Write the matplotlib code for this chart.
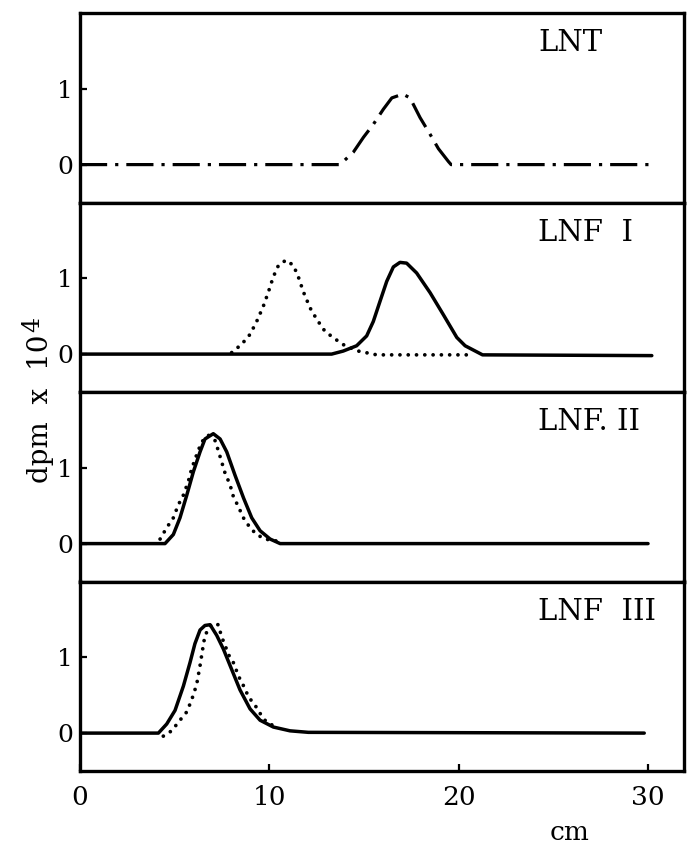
import matplotlib
matplotlib.use("Agg")
import matplotlib.pyplot as plt

plt.rcParams['font.family'] = ['DejaVu Serif']

# ---- data (cm, dpm x 10^4) ----
lnt_x = [0, 13.73, 14.44, 14.97, 15.49, 16.02, 16.47, 17.05, 17.43, 17.96, 18.49, 18.93, 19.46, 19.6, 30.3]
lnt_y = [0, 0, 0.165, 0.36, 0.53, 0.73, 0.88, 0.93, 0.88, 0.62, 0.40, 0.21, 0.04, 0, 0]

lnf1_solid_x = [0, 13.29, 13.9, 14.61, 15.14, 15.49, 15.85, 16.2, 16.55, 16.9, 17.25, 17.78, 18.49,
                19.19, 19.9, 20.34, 21.26, 30.2]
lnf1_solid_y = [0, 0, 0.04, 0.11, 0.24, 0.43, 0.70, 0.96, 1.15, 1.21, 1.20, 1.07, 0.81,
                0.52, 0.22, 0.11, -0.01, -0.02]
lnf1_dot_x = [8.01, 8.54, 8.98, 9.33, 9.68, 9.95, 10.21, 10.48, 10.88, 11.27, 11.53, 11.8, 12.15,
              12.5, 12.94, 13.47, 14.0, 14.7, 15.67, 20.7]
lnf1_dot_y = [0.02, 0.13, 0.26, 0.43, 0.63, 0.82, 1.02, 1.17, 1.24, 1.17, 1.02, 0.82, 0.61,
              0.46, 0.30, 0.20, 0.11, 0.04, -0.01, -0.01]

lnf2_solid_x = [0, 4.49, 4.93, 5.28, 5.64, 5.99, 6.34, 6.6, 7.04, 7.4, 7.75, 8.19, 8.64, 9.07,
                9.51, 10.04, 10.57, 30.0]
lnf2_solid_y = [0, 0, 0.12, 0.34, 0.64, 0.95, 1.21, 1.38, 1.45, 1.38, 1.21, 0.90, 0.60, 0.34,
                0.17, 0.06, 0, 0]
lnf2_dot_x = [4.23, 4.58, 4.93, 5.19, 5.46, 5.72, 5.9, 6.16, 6.42, 6.78, 7.13, 7.3, 7.48, 7.66,
              7.92, 8.1, 8.36, 8.63, 8.98, 9.33, 9.77, 10.48]
lnf2_dot_y = [0.06, 0.21, 0.34, 0.51, 0.64, 0.82, 0.99, 1.17, 1.34, 1.43, 1.36, 1.23, 1.08, 0.93,
              0.78, 0.62, 0.49, 0.34, 0.21, 0.12, 0.06, 0.03]

lnf3_solid_x = [0, 4.14, 4.58, 5.02, 5.46, 5.81, 6.07, 6.34, 6.6, 6.87, 7.22, 7.57, 8.01, 8.45,
                8.98, 9.51, 10.21, 11.09, 12.06, 29.8]
lnf3_solid_y = [0, 0, 0.12, 0.30, 0.62, 0.93, 1.18, 1.36, 1.42, 1.43, 1.29, 1.11, 0.84, 0.57,
                0.32, 0.17, 0.08, 0.03, 0.01, 0]
lnf3_dot_x = [4.4, 4.84, 5.28, 5.64, 5.9, 6.16, 6.34, 6.48, 6.6, 6.95, 7.3, 7.48, 7.66, 7.83,
              8.1, 8.27, 8.45, 8.71, 8.89, 9.24, 9.51, 9.86, 10.21]
lnf3_dot_y = [-0.04, 0.03, 0.17, 0.28, 0.44, 0.64, 0.89, 1.11, 1.29, 1.44, 1.43, 1.27, 1.16, 1.04,
              0.93, 0.82, 0.71, 0.59, 0.48, 0.37, 0.26, 0.14, 0.10]

panel_labels = ["LNT", "LNF  I", "LNF. II", "LNF  III"]
x_ticks = [0, 10, 20, 30]
y_ticks = [0, 1]

# ---- figure ----
W, H = 687, 844
fig = plt.figure(figsize=(W / 100, H / 100), dpi=100)
left, right = 80 / W, 684 / W
top_px, bot_px = 13, 771
ph = (bot_px - top_px) / 4

SOLID = dict(color='black', lw=2.5, solid_capstyle='round', solid_joinstyle='round')
DOT = dict(color='black', lw=2.7, linestyle=(0, (0.01, 2.2)), dash_capstyle='round')
DASHDOT = dict(color='black', lw=2.3, linestyle=(0, (8.5, 2.5, 1, 2.5)))

curves = [
    [(lnt_x, lnt_y, DASHDOT)],
    [(lnf1_dot_x, lnf1_dot_y, DOT), (lnf1_solid_x, lnf1_solid_y, SOLID)],
    [(lnf2_dot_x, lnf2_dot_y, DOT), (lnf2_solid_x, lnf2_solid_y, SOLID)],
    [(lnf3_dot_x, lnf3_dot_y, DOT), (lnf3_solid_x, lnf3_solid_y, SOLID)],
]

axes = []
for i in range(4):
    t = top_px + i * ph
    ax = fig.add_axes([left, 1 - (t + ph) / H, right - left, ph / H])
    for (xs, ys, st) in curves[i]:
        ax.plot(xs, ys, **st)
    ax.set_xlim(0, 31.9)
    ax.set_ylim(-0.5, 2.0)
    ax.set_yticks(y_ticks)
    ax.set_yticklabels([str(v) for v in y_ticks], fontsize=18)
    ax.tick_params(axis='y', direction='in', length=5, width=1.6, pad=5)
    ax.set_xticks(x_ticks)
    if i < 3:
        ax.tick_params(axis='x', bottom=False, labelbottom=False)
    else:
        ax.set_xticklabels([str(v) for v in x_ticks], fontsize=19)
        ax.tick_params(axis='x', direction='in', length=5, width=1.6, pad=10)
    for s in ax.spines.values():
        s.set_linewidth(2.4)
    ax.text(24.2, 1.6, panel_labels[i], fontsize=21, ha='left', va='center')
    axes.append(ax)

# y label: "dpm x 10" with a large raised "4"
base_x = 48 / W
t1 = fig.text(base_x, 1 - 483 / H, 'dpm  x  10', rotation=90, fontsize=20,
              rotation_mode='anchor', ha='left', va='baseline')
fig.canvas.draw()
bb = t1.get_window_extent(renderer=fig.canvas.get_renderer())
fig.text(base_x - 9 / W, (bb.y1 + 2) / H, '4', rotation=90, fontsize=17,
         rotation_mode='anchor', ha='left', va='baseline')

fig.text(570 / W, 1 - 833 / H, 'cm', fontsize=19, ha='center', va='center')

fig.savefig('out.png', dpi=100)
